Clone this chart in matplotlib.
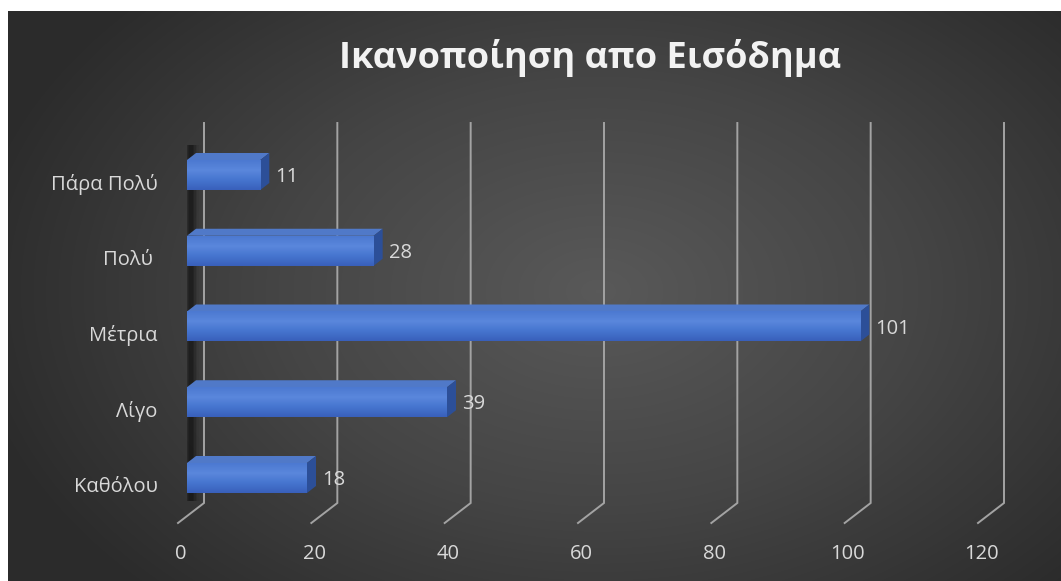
import numpy as np
import matplotlib
matplotlib.use("Agg")
import matplotlib.pyplot as plt
import matplotlib.transforms as mtrans
from matplotlib.patches import Polygon
from matplotlib.colors import LinearSegmentedColormap

# ---------------- data ----------------
categories = ["Καθόλου", "Λίγο", "Μέτρια", "Πολύ ", "Πάρα Πολύ"]
values = [18, 39, 101, 28, 11]
xticks = [0, 20, 40, 60, 80, 100, 120]
title = "Ικανοποίηση απο Εισόδημα"

W, H = 1061, 581
fig = plt.figure(figsize=(W / 100, H / 100), dpi=100, facecolor="white")

# ---------------- background (radial gradient) ----------------
bg = fig.add_axes([8 / W, 0, (W - 8) / W, (H - 11) / H])
bg.set_axis_off()
yy, xx = np.mgrid[0:570, 0:1053]
cx, cy = 590, 280
r = np.sqrt(((xx - cx) / 640.0) ** 2 + ((yy - cy) / 430.0) ** 2)
r = np.clip(r, 0, 1)
bgcmap = LinearSegmentedColormap.from_list("bg", ["#595959", "#454545", "#2b2b2b"])
bg.imshow(r, cmap=bgcmap, aspect="auto", interpolation="bilinear", vmin=0, vmax=1)

# ---------------- main axes ----------------
x0_px, x1_px = 187, 987          # value 0 and 120 (bar front plane)
top_px, bot_px = 123, 523
ax = fig.add_axes([x0_px / W, (H - bot_px) / H, (x1_px - x0_px) / W, (bot_px - top_px) / H])
ax.patch.set_alpha(0)
for s in ax.spines.values():
    s.set_visible(False)

center0_px, step_px = 478, 75.75
ylo = (center0_px - bot_px) / step_px
yhi = (center0_px - top_px) / step_px

ux = (x1_px - x0_px) / 120.0     # px per value unit
uy = step_px                     # px per category unit

def dxv(px):
    return px / ux

def dyv(px):
    return px / uy

# gridlines (back wall + floor diagonal)
grid_col = "#a3a3a3"
wall_bottom = (center0_px - 503) / step_px
for v in xticks:
    xb = v + dxv(17)
    xf = v - dxv(9)
    ax.plot([xb, xb, xf], [yhi, wall_bottom, ylo], color=grid_col, lw=1.4,
            solid_joinstyle="miter", zorder=1, clip_on=False)

# left wall soft shadow
for k in range(12):
    xa = dxv(-4 + k * 1.6)
    xb2 = dxv(-4 + (k + 1) * 1.6)
    a = 0.5 * np.exp(-((k - 4.5) / 3.2) ** 2)
    ax.add_patch(Polygon([[xa, wall_bottom + dyv(2)], [xb2, wall_bottom + dyv(2)],
                          [xb2, yhi - dyv(22)], [xa, yhi - dyv(22)]],
                         closed=True, facecolor="#000000", edgecolor="none", alpha=a, zorder=1.5))

# bars
h = 30 / step_px
odx, ody = dxv(9), dyv(7)
front_cmap = LinearSegmentedColormap.from_list("front", ["#3960bb", "#4675cf", "#5a87dc", "#4c79d1"])
grad = np.linspace(0, 1, 64).reshape(-1, 1)
for i, v in enumerate(values):
    yb, yt = i - h / 2, i + h / 2
    ax.add_patch(Polygon([[0, yt], [v, yt], [v + odx, yt + ody], [odx, yt + ody]],
                         closed=True, facecolor="#5079c8", edgecolor="none", zorder=3))
    ax.add_patch(Polygon([[v, yb], [v + odx, yb + ody], [v + odx, yt + ody], [v, yt]],
                         closed=True, facecolor="#2c4f98", edgecolor="none", zorder=3))
    ax.imshow(grad, cmap=front_cmap, aspect="auto", extent=[0, v, yb, yt],
              interpolation="bilinear", zorder=4, origin="lower")
    ax.text(v + odx + dxv(6), i + dyv(-2), str(v), color="#d9d9d9", fontsize=14.5,
            family="Open Sans", va="center", ha="left", zorder=5)

ax.set_xlim(0, 120)
ax.set_ylim(ylo, yhi)

# ticks
ax.set_xticks(xticks)
ax.set_xticklabels([str(t) for t in xticks], color="#d9d9d9", fontsize=14.5, family="Open Sans")
ax.tick_params(axis="x", length=0, pad=15)
xshift = mtrans.ScaledTranslation(-6 / 100, 0, fig.dpi_scale_trans)
for lab in ax.get_xticklabels():
    lab.set_transform(lab.get_transform() + xshift)

ax.set_yticks(range(len(categories)))
ax.set_yticklabels(categories, color="#d9d9d9", fontsize=14.5, family="Open Sans")
ax.tick_params(axis="y", length=0, pad=21)
yshift = mtrans.ScaledTranslation(0, -7 / 100, fig.dpi_scale_trans)
for lab in ax.get_yticklabels():
    lab.set_transform(lab.get_transform() + yshift)

# title
fig.text(590 / W, 1 - 58 / H, title, ha="center", va="center", color="#f2f2f2",
         fontsize=26, fontweight="bold", family="Open Sans")

fig.savefig("out.png", dpi=100, facecolor="white")
